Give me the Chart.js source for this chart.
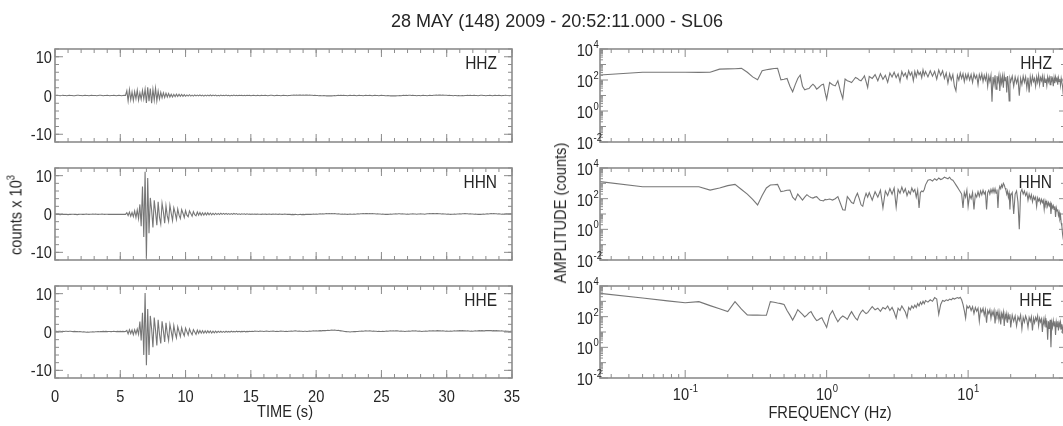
<!DOCTYPE html>
<html><head><meta charset="utf-8">
<script src="https://cdn.jsdelivr.net/npm/chart.js@4.4.1/dist/chart.umd.min.js"></script>
<style>
html,body{margin:0;padding:0;background:#fff;}
#wrap{position:relative;width:1063px;height:426px;overflow:hidden;background:#fff;}
#wrap canvas{position:absolute;left:0;top:0;}
.t{position:absolute;white-space:nowrap;color:#262626;font-family:"Liberation Sans Narrow","Liberation Sans",Arial,sans-serif;font-size:17px;line-height:20px;}
.t sup{font-size:11px;vertical-align:0;position:relative;top:-7px;}
#title{left:557px;top:10px;transform:translateX(-50%);font-family:"Liberation Sans",Arial,sans-serif;font-size:18px;line-height:22px;}
.rot{transform:translate(-50%,-50%) rotate(-90deg) scaleX(0.86);}
.cx{transform:translateX(-50%) scaleX(0.86);}
</style>
</head><body>
<div id="wrap">
  <canvas id="t0" width="1070" height="426"></canvas>
  <canvas id="t1" width="1070" height="426"></canvas>
  <canvas id="t2" width="1070" height="426"></canvas>
  <canvas id="f0" width="1070" height="426"></canvas>
  <canvas id="f1" width="1070" height="426"></canvas>
  <canvas id="f2" width="1070" height="426"></canvas>
  <div class="t" id="title">28 MAY (148) 2009 - 20:52:11.000 - SL06</div>
  <div class="t rot" style="left:17px;top:215px;">counts x 10<sup>3</sup></div>
  <div class="t rot" style="left:561px;top:213px;">AMPLITUDE (counts)</div>
  <div class="t cx" style="left:285px;top:402px;">TIME (s)</div>
  <div class="t cx" style="left:830px;top:403px;">FREQUENCY (Hz)</div>
</div>
<script>
// ---------------- data ----------------
const DT = 0.1; // sample interval of the traces (s)
const timeTicks = [0, 5, 10, 15, 20, 25, 30, 35];
const countTicks = [-10, 0, 10];
const freqTickExp = [-1, 0, 1];
const ampTickExp = [-2, 0, 2, 4];
const channels = ['HHZ', 'HHN', 'HHE'];

// traces, counts x 10^3, one value per 0.1 s from 0 to 35 s
const hhzCounts = [
0,0.05,0.05,0,-0.05,0,0.05,0,0,-0.05,
0,0.05,0,0,-0.05,-0.05,0,0.05,0.05,0,
0,-0.05,0,0.05,0,0,-0.05,0,0.05,0,
0,0,-0.05,0,0.05,0.05,0,-0.05,0,0,
0.05,0,-0.05,0,0,0.05,0,-0.05,0,0.05,
0,-0.05,0,0.05,0,1.2,-1.4,1.5,-1.1,0.9,
-1.3,1.0,-0.8,1.4,-1.2,0.7,-1.0,1.3,-0.9,1.6,
-1.9,2.1,-1.5,1.8,-2.0,1.6,-1.2,1.9,-1.4,1.1,
-0.9,0.8,-0.6,0.7,-0.5,0.6,-0.4,0.5,-0.4,0.3,
-0.4,0.3,-0.3,0.35,-0.25,0.3,-0.2,0.25,-0.2,0.2,
-0.2,0.15,-0.15,0.2,-0.15,0.1,-0.15,0.15,-0.1,0.1,
-0.1,0.15,-0.1,0.1,-0.15,0.1,-0.1,0.1,-0.1,0.15,
-0.1,0.1,-0.05,0.1,-0.1,0.05,-0.1,0.1,-0.05,0.05,
-0.05,0.1,-0.05,0.05,-0.1,0.05,-0.05,0.1,-0.05,0.05,
-0.05,0.05,0,0.05,-0.05,0.05,-0.05,0.05,0,0.05,
-0.05,0,0.05,0,-0.05,0.05,0,-0.05,0.05,0,
0,0.05,0,-0.05,0,0.05,0.05,0,-0.05,0,
0.05,0,0,-0.05,0,0.05,0,0,-0.05,0,
0,0.05,0.05,0.1,0.05,0.1,0.05,0.1,0.1,0.05,
0.1,0.05,0.1,0.1,0.05,0.1,0.05,0.05,0,0.05,
0,0,-0.05,0,-0.05,-0.05,0,-0.05,-0.1,-0.05,
-0.1,-0.05,-0.1,-0.05,0,-0.05,0,0.05,0,0.05,
0,0.05,0,0,-0.05,0,0.05,0,0,0.05,
0,-0.05,0,0.05,0,0,-0.05,0,0.05,0,
0,0.05,0,-0.05,0,0.05,0,0,-0.05,0,
0.05,0,0,-0.05,-0.05,0,-0.05,-0.1,-0.05,-0.1,
-0.05,-0.1,-0.05,-0.05,0,-0.05,0,0.05,0,0.05,
0,0.05,0.05,0,0.05,0,0,-0.05,0,0,
-0.05,0,0.05,0,0,-0.05,0,0.05,0,0,
0.05,0.05,0.1,0.05,0.1,0.1,0.05,0.1,0.05,0.05,
0.05,0,0.05,0,0,-0.05,0,0,-0.05,0,
-0.05,-0.05,0,-0.05,0,0,0.05,0,0.05,0,
0,0.05,0,0,-0.05,0,0.05,0.05,0,0,
-0.05,0,0,0.05,0,-0.05,0,0.05,0,0,
0.05,0,-0.05,0,0,0.05,0,0,-0.05,0,
0];
const hhnCounts = [
-0.1,-0.1,-0.05,-0.1,-0.15,-0.1,-0.1,-0.05,-0.1,-0.1,
-0.15,-0.1,-0.1,-0.05,-0.05,-0.1,-0.1,-0.15,-0.1,-0.05,
-0.05,-0.1,-0.1,-0.05,0,-0.05,-0.1,-0.05,-0.05,0,
-0.05,0,-0.05,-0.1,-0.05,-0.05,0,-0.05,-0.1,-0.05,
-0.05,-0.1,-0.05,-0.1,-0.1,-0.05,-0.1,-0.05,-0.1,-0.05,
-0.1,-0.05,-0.1,-0.05,-0.1,0.3,-0.4,0.5,-0.6,0.4,
-0.7,0.8,-0.9,1.0,-1.2,2.5,-3.2,7.2,-6.0,11.0,
-11.5,9.4,-5.0,4.2,1.0,-3.5,3.6,0.5,-2.9,3.2,
-0.8,-2.6,2.8,0.6,-2.4,2.1,-0.5,-1.9,2.3,0.2,
-1.7,1.6,0.3,-1.4,1.3,-0.3,-1.2,1.1,0.2,-0.9,
0.9,-0.3,-0.7,0.8,0.1,-0.6,0.6,-0.2,-0.5,0.5,
-0.3,0.4,-0.35,0.3,-0.3,0.3,-0.25,0.3,-0.2,0.25,
-0.2,0.2,-0.2,0.2,-0.15,0.15,-0.15,0.2,-0.1,0.15,
-0.1,0.15,-0.1,0.1,-0.1,0.1,-0.1,0.15,-0.05,0.1,
-0.1,0.05,-0.1,0.05,-0.05,0.05,-0.1,0.05,-0.05,0,
-0.1,0,-0.05,0,-0.1,0,-0.05,-0.05,-0.1,0,
-0.05,0,-0.1,-0.05,0,-0.05,-0.1,0,-0.05,0,
-0.05,-0.1,0,-0.05,-0.1,-0.05,0,-0.05,-0.1,-0.05,
-0.1,-0.15,-0.1,-0.15,-0.1,-0.15,-0.2,-0.15,-0.1,-0.15,
-0.1,-0.15,-0.1,-0.05,-0.1,-0.05,-0.1,-0.05,0,-0.05,
0,-0.05,0,0.05,0,0.05,0,0.05,0.1,0.05,
0.1,0.05,0.1,0.05,0.1,0.05,0,0.05,0,-0.05,
0,-0.05,0,-0.05,-0.1,-0.05,0,-0.05,-0.05,0,
-0.05,0,0.05,0,0.05,0.05,0.1,0.05,0.1,0.1,
0.05,0.1,0.05,0.1,0.05,0.05,0,0.05,0,0,
-0.05,0,-0.05,-0.1,-0.05,-0.1,-0.05,0,-0.05,0,
0,0.05,0,0.05,0.05,0,0.05,0,0,-0.05,
0,-0.05,0,0,0.05,0,0,-0.05,0,0,
0.05,0,0,-0.05,0,0.05,0.05,0.1,0.05,0.1,
0.1,0.05,0.1,0.1,0.05,0.05,0,0.05,0,0,
-0.05,0,-0.05,-0.1,-0.05,-0.05,0,-0.05,0,0,
0.05,0,0.05,0.05,0.1,0.05,0.05,0,0.05,0,
0,-0.05,0,-0.05,-0.1,-0.05,-0.1,-0.05,0,-0.05,
0,0.05,0,0.05,0.1,0.05,0.1,0.05,0.05,0,
0.05,0,-0.05,0,-0.05,0,0.05,0,0,0.05,
0];
const hheCounts = [
0.15,0.2,0.15,0.2,0.2,0.15,0.2,0.15,0.2,0.2,
0.15,0.2,0.2,0.15,0.1,0.15,0.1,0.1,0.05,0.1,
0.05,0,0.05,0,-0.05,0,-0.05,0,0,0.05,
0,0.05,0.05,0.1,0.05,0.1,0.1,0.15,0.1,0.15,
0.1,0.15,0.15,0.1,0.15,0.2,0.15,0.1,0.15,0.1,
0.15,0.1,0.15,0.1,0.15,0.4,-0.5,0.6,-0.4,0.5,
-0.7,0.6,-0.5,0.8,-0.6,2.7,-2.2,5.0,-6.0,10.2,
-8.7,6.0,-6.0,4.2,0.8,-4.0,3.8,0.5,-3.5,3.2,
-0.6,-3.0,2.8,0.3,-2.6,2.4,-0.4,-2.2,2.0,0.2,
-1.8,1.7,-0.2,-1.5,1.4,0.1,-1.2,1.1,-0.2,-1.0,
1.0,0.1,-0.8,0.8,-0.1,-0.7,0.6,0.0,-0.6,0.5,
-0.35,0.4,-0.3,0.35,-0.3,0.3,-0.25,0.3,-0.2,0.25,
-0.25,0.2,-0.2,0.25,-0.15,0.2,-0.1,0.2,-0.1,0.15,
-0.1,0.2,-0.05,0.15,-0.05,0.2,0,0.15,0,0.2,
0.05,0.2,0.05,0.15,0.1,0.2,0.05,0.15,0.1,0.2,
0.15,0.2,0.15,0.25,0.2,0.2,0.15,0.25,0.2,0.2,
0.15,0.2,0.25,0.2,0.15,0.2,0.2,0.25,0.2,0.15,
0.2,0.15,0.2,0.25,0.2,0.2,0.15,0.2,0.15,0.2,
0.2,0.25,0.2,0.25,0.3,0.25,0.2,0.25,0.2,0.2,
0.15,0.2,0.2,0.15,0.2,0.25,0.2,0.25,0.3,0.25,
0.3,0.25,0.3,0.35,0.3,0.35,0.4,0.35,0.4,0.45,
0.4,0.45,0.5,0.45,0.5,0.45,0.4,0.45,0.35,0.3,
0.25,0.2,0.15,0.1,0.05,0.05,0,0.05,0.05,0.1,
0.1,0.15,0.15,0.2,0.2,0.25,0.2,0.25,0.3,0.25,
0.25,0.3,0.25,0.2,0.25,0.2,0.2,0.15,0.2,0.15,
0.15,0.2,0.15,0.2,0.25,0.2,0.25,0.3,0.25,0.3,
0.25,0.3,0.3,0.25,0.2,0.25,0.2,0.2,0.15,0.2,
0.2,0.25,0.2,0.25,0.3,0.25,0.3,0.25,0.2,0.25,
0.2,0.15,0.2,0.2,0.25,0.2,0.25,0.3,0.25,0.3,
0.3,0.25,0.3,0.35,0.3,0.3,0.25,0.3,0.25,0.2,
0.25,0.2,0.2,0.25,0.2,0.25,0.3,0.25,0.3,0.3,
0.35,0.3,0.35,0.3,0.3,0.25,0.3,0.25,0.2,0.25,
0.2,0.25,0.3,0.25,0.3,0.35,0.3,0.35,0.3,0.3,
0.35,0.4,0.35,0.4,0.35,0.3,0.35,0.3,0.35,0.3,
0.3,0.25,0.3,0.25,0.2,0.25,0.2,0.2,0.15,0.2,
0.2];

// spectrum frequencies (Hz)
const freqHz = [
0.025,0.05,0.075,0.1,0.125,0.15,0.175,0.2,0.225,0.25,
0.275,0.3,0.325,0.35,0.375,0.4,0.425,0.45,0.475,0.5,
0.525,0.55,0.575,0.6,0.625,0.65,0.675,0.7,0.725,0.75,
0.775,0.8,0.825,0.85,0.875,0.9,0.925,0.95,0.975,1.0,
1.05,1.1,1.15,1.2,1.25,1.3,1.35,1.4,1.45,1.5,
1.55,1.6,1.65,1.7,1.75,1.8,1.85,1.9,1.95,2.0,
2.1,2.2,2.3,2.4,2.5,2.6,2.7,2.8,2.9,3.0,
3.1,3.2,3.3,3.4,3.5,3.6,3.7,3.8,3.9,4.0,
4.1,4.2,4.3,4.4,4.5,4.6,4.7,4.8,4.9,5.0,
5.2,5.4,5.6,5.8,6.0,6.2,6.4,6.6,6.8,7.0,
7.2,7.4,7.6,7.8,8.0,8.2,8.4,8.6,8.8,9.0,
9.2,9.4,9.6,9.8,10.0,
10.25,10.5,10.75,11,11.25,11.5,11.75,12,12.25,12.5,
12.75,13,13.25,13.5,13.75,14,14.25,14.5,14.75,15,
15.25,15.5,15.75,16,16.25,16.5,16.75,17,17.25,17.5,
17.75,18,18.25,18.5,18.75,19,19.25,19.5,19.75,20,
20.5,21,21.5,22,22.5,23,23.5,24,24.5,25,
25.5,26,26.5,27,27.5,28,28.5,29,29.5,30,
30.5,31,31.5,32,32.5,33,33.5,34,34.5,35,
35.5,36,36.5,37,37.5,38,38.5,39,39.5,40,
40.5,41,41.5,42,42.5,43,43.5,44,44.5,45,
45.5,46,46.5,47,47.5,48,48.5,49,49.5,50];

// spectral amplitude, read as log10(counts)
const hhzLogAmp = [
2.32,2.50,2.50,2.50,2.49,2.50,2.70,2.72,2.73,2.75,
2.50,2.20,2.01,2.60,2.66,2.70,2.74,2.75,2.01,2.05,
2.10,1.60,1.24,1.70,2.10,2.32,1.60,1.37,1.42,1.45,
1.60,1.73,1.60,1.41,1.50,1.60,1.70,1.73,1.20,0.76,
1.84,1.70,1.62,1.95,1.30,0.80,2.06,1.95,1.90,1.84,
2.00,2.16,2.10,2.00,1.95,2.10,2.27,1.90,1.52,2.23,
2.10,2.35,1.95,2.40,2.05,2.30,1.85,2.45,2.20,2.50,
2.15,2.40,1.90,2.55,2.25,2.45,2.10,2.60,2.30,2.50,
1.95,2.55,2.20,2.60,2.35,2.50,2.15,2.65,2.30,2.55,
2.20,2.60,2.25,2.55,2.05,2.65,2.30,2.60,2.10,2.45,
1.80,2.40,2.00,2.35,1.60,1.30,2.30,2.00,2.45,2.10,
2.40,1.90,2.35,2.05,2.40,
2.00,2.35,1.85,2.40,2.10,2.30,1.70,2.35,2.05,2.40,
1.90,2.30,2.00,2.35,1.60,2.25,1.90,2.30,0.60,2.20,
1.70,2.30,1.40,2.25,1.90,2.30,1.30,2.20,1.80,2.25,
1.50,2.30,1.95,2.20,1.20,2.25,1.70,0.65,2.10,1.90,
2.25,1.60,2.20,1.80,2.15,0.98,2.10,1.70,2.25,1.85,
2.20,1.50,2.15,1.20,2.20,1.75,2.25,1.90,2.10,1.60,
2.20,1.85,2.30,1.70,2.15,1.95,2.25,1.55,2.20,1.85,
2.10,1.65,2.20,1.90,2.15,1.70,2.25,1.95,2.10,1.60,
2.15,1.80,2.20,1.95,2.10,1.70,2.15,1.90,2.05,1.65,
2.10,1.85,1.60,1.10,1.50,1.20,1.40,1.00,1.30,1.10];
const hhnLogAmp = [
3.11,2.78,2.78,2.78,2.78,2.56,2.70,2.85,2.93,2.60,
2.30,1.95,1.59,2.20,2.70,2.89,2.91,2.93,2.46,2.50,
2.55,2.56,2.10,1.91,2.30,2.10,1.91,2.10,2.26,2.15,
2.08,2.04,2.10,2.13,2.00,1.90,1.88,1.85,1.95,1.93,
1.98,1.91,2.00,2.13,1.70,1.28,1.26,2.13,1.95,1.75,
1.69,2.10,2.35,2.00,1.60,1.50,2.00,2.35,2.10,2.40,
1.90,2.45,2.10,2.55,1.40,2.50,2.20,2.65,2.30,2.70,
1.45,2.60,2.35,2.75,2.40,2.65,2.20,2.50,2.30,2.70,
2.45,2.60,2.10,2.55,1.40,2.40,2.50,2.45,2.60,2.90,
3.20,3.25,3.15,3.30,3.20,3.35,3.25,3.30,3.40,3.35,
3.30,3.40,3.25,3.20,3.05,2.90,2.75,2.60,2.45,2.30,
1.40,2.40,2.10,2.55,1.50,
2.25,2.00,2.40,1.30,2.30,2.10,2.45,2.15,2.50,2.25,
2.55,2.30,2.45,1.30,2.40,2.55,2.30,2.60,2.40,2.65,
2.40,2.65,2.35,2.60,1.40,2.55,2.80,2.65,2.90,2.75,
3.00,2.90,2.70,2.55,2.30,2.50,2.10,2.35,1.30,2.20,
2.40,1.00,2.30,2.50,1.80,0.00,2.40,2.60,2.30,2.50,
2.20,2.40,1.90,2.30,2.00,2.25,1.80,2.15,1.95,2.10,
1.50,2.05,1.85,2.00,1.70,1.95,1.75,1.90,1.30,1.85,
1.60,1.80,1.50,1.75,1.55,1.70,1.00,1.60,1.40,1.55,
1.30,1.50,0.80,1.40,1.20,1.30,0.90,1.10,0.70,0.90,
0.40,0.20,-0.30,-0.60,-0.80,-1.00,-1.20,-1.40,-1.60,-1.80];
const hheLogAmp = [
3.52,3.22,3.03,2.91,2.98,2.72,2.51,2.33,2.98,2.49,
2.11,2.10,2.10,2.09,2.09,2.98,2.94,2.89,2.85,2.80,
2.40,2.10,1.78,2.10,2.46,2.30,2.15,1.98,2.10,2.25,
2.33,2.10,1.90,1.74,1.80,1.88,1.93,1.70,1.50,1.30,
2.10,2.39,2.00,1.67,1.90,2.04,1.95,1.82,2.10,2.33,
2.10,1.90,1.78,2.10,2.30,2.43,2.30,2.20,2.26,2.40,
2.65,2.45,2.55,2.35,2.60,2.50,2.70,2.40,2.60,2.30,
1.90,2.55,2.40,2.70,2.50,2.30,1.95,2.60,2.45,2.70,
2.55,2.75,2.60,2.85,2.70,2.95,2.80,3.00,2.85,3.05,
2.95,3.10,3.00,3.24,3.15,2.15,2.80,3.05,3.00,3.10,
3.05,3.15,3.10,3.20,3.15,3.20,3.25,3.20,3.26,3.10,
2.80,2.40,1.90,2.70,2.55,
2.70,2.40,2.65,2.20,2.60,2.35,2.55,1.70,2.50,2.30,
2.55,2.10,2.45,1.60,2.40,2.20,2.45,1.90,2.35,2.10,
2.40,1.55,2.30,2.05,2.35,1.80,2.25,1.50,2.20,1.95,
2.30,1.40,2.15,1.90,2.20,1.60,2.10,1.85,2.15,1.30,
2.10,1.70,2.05,1.40,2.00,1.75,2.10,1.20,1.95,1.65,
2.05,1.80,1.30,1.95,1.70,2.00,1.10,1.90,1.60,1.95,
1.75,2.05,1.40,1.90,1.65,1.85,1.00,1.80,1.50,1.90,
1.30,1.75,0.50,1.70,1.20,1.80,0.00,1.60,1.30,1.75,
1.40,1.70,0.80,1.65,1.35,1.70,1.10,1.60,1.40,1.65,
1.20,1.50,0.90,1.30,1.00,1.20,0.90,1.10,0.80,1.00];

// ---------------- drawing ----------------
const NARROW = '"Liberation Sans Narrow","Liberation Sans",Arial,sans-serif';
const SX = 0.86; // horizontal condensing of the axis lettering
const TXT = '#262626';
const FRAME = '#8c8c8c';
const LINE = 'rgba(60,60,60,0.7)';
const CW = 1070, CH = 426;
const COL_T = {l: 55, r: 512};
const COL_F = {l: 600, r: 1067};
const ROWS = [[49, 142], [168, 260], [286, 378]];

function traceData(arr) { return arr.map((v, i) => ({x: Math.round(i * DT * 10) / 10, y: v})); }
function specData(arr) { return freqHz.map((f, i) => ({x: f, y: Math.pow(10, arr[i])})); }

function textW(ctx, s, font) { ctx.font = font; return ctx.measureText(s).width * SX; }
function drawText(ctx, s, x, y, align, font) {
  const w = textW(ctx, s, font);
  const x0 = align === 'right' ? x - w : align === 'center' ? x - w / 2 : x;
  ctx.save();
  ctx.font = font; ctx.textAlign = 'left'; ctx.textBaseline = 'alphabetic';
  ctx.translate(x0, y); ctx.scale(SX, 1);
  ctx.fillText(s, 0, 0);
  ctx.restore();
}

function drawTicks(ctx, chart, axis, values, len) {
  const ca = chart.chartArea, s = chart.scales[axis];
  ctx.beginPath();
  values.forEach(v => {
    const p = s.getPixelForValue(v);
    if (axis === 'x') {
      if (p < ca.left - 0.5 || p > ca.right + 0.5) return;
      ctx.moveTo(p, ca.bottom); ctx.lineTo(p, ca.bottom - len);
      ctx.moveTo(p, ca.top); ctx.lineTo(p, ca.top + len);
    } else {
      if (p < ca.top - 0.5 || p > ca.bottom + 0.5) return;
      ctx.moveTo(ca.left, p); ctx.lineTo(ca.left + len, p);
      ctx.moveTo(ca.right, p); ctx.lineTo(ca.right - len, p);
    }
  });
  ctx.stroke();
}

function logMinors(lo, hi) {
  const out = [];
  for (let e = -3; e <= 4; e++) for (let k = 2; k <= 9; k++) {
    const v = k * Math.pow(10, e);
    if (v >= lo && v <= hi) out.push(v);
  }
  return out;
}

function panelPlugin(kind, row, label) {
  return {
    id: 'panel' + kind + row,
    afterDraw(chart) {
      const ctx = chart.ctx, ca = chart.chartArea;
      ctx.save();
      ctx.strokeStyle = FRAME;
      ctx.lineWidth = 1;
      if (kind === 'time') {
        const minorX = []; for (let t = 0; t <= 35; t++) minorX.push(t);
        const minorY = []; for (let c = -12; c <= 12; c += 2) minorY.push(c);
        drawTicks(ctx, chart, 'x', minorX, 4);
        drawTicks(ctx, chart, 'x', timeTicks, 8);
        drawTicks(ctx, chart, 'y', minorY, 4);
        drawTicks(ctx, chart, 'y', countTicks, 8);
      } else {
        drawTicks(ctx, chart, 'x', logMinors(0.025, 50), 4);
        drawTicks(ctx, chart, 'x', freqTickExp.map(e => Math.pow(10, e)), 8);
        drawTicks(ctx, chart, 'y', logMinors(0.01, 10000), 3);
        drawTicks(ctx, chart, 'y', [0.1, 10, 1000], 6);
        drawTicks(ctx, chart, 'y', ampTickExp.map(e => Math.pow(10, e)), 8);
      }
      ctx.lineWidth = 1.6;
      ctx.strokeRect(ca.left, ca.top, ca.right - ca.left, ca.bottom - ca.top);

      ctx.fillStyle = TXT;
      const big = '17px ' + NARROW, small = '11px ' + NARROW;
      if (kind === 'time') {
        countTicks.forEach(v => {
          const y = chart.scales.y.getPixelForValue(v);
          drawText(ctx, String(v), ca.left - 3, y + 6, 'right', big);
        });
        if (row === 2) {
          timeTicks.forEach(v => {
            const x = chart.scales.x.getPixelForValue(v);
            drawText(ctx, String(v), x, ca.bottom + 24, 'center', big);
          });
        }
      } else {
        ampTickExp.forEach(e => {
          const y = chart.scales.y.getPixelForValue(Math.pow(10, e));
          drawText(ctx, '10', ca.left - 7, y + 7, 'right', big);
          drawText(ctx, String(e), ca.left - 6.5, y - 1, 'left', small);
        });
        if (row === 2) {
          freqTickExp.forEach(e => {
            const x = chart.scales.x.getPixelForValue(Math.pow(10, e));
            const w1 = textW(ctx, '10', big), w2 = textW(ctx, String(e), small);
            const x0 = x - (w1 + w2) / 2;
            drawText(ctx, '10', x0, ca.bottom + 22, 'left', big);
            drawText(ctx, String(e), x0 + w1 + 0.5, ca.bottom + 14, 'left', small);
          });
        }
      }
      drawText(ctx, label, ca.right - 15, ca.top + 20, 'right', '18px ' + NARROW);
      ctx.restore();
    }
  };
}

function makePanel(id, kind, row, values) {
  const col = kind === 'time' ? COL_T : COL_F;
  const [top, bottom] = ROWS[row];
  const data = kind === 'time' ? traceData(values) : specData(values);
  const scales = kind === 'time'
    ? { x: {type: 'linear', min: 0, max: 35, display: false},
        y: {type: 'linear', min: -12, max: 12, display: false} }
    : { x: {type: 'logarithmic', min: 0.025, max: 50, display: false},
        y: {type: 'logarithmic', min: 0.01, max: 10000, display: false} };
  new Chart(document.getElementById(id), {
    type: 'line',
    data: { datasets: [{ data: data, borderColor: LINE, borderWidth: 1.1, pointRadius: 0, fill: false, tension: 0 }] },
    options: {
      responsive: false, animation: false, events: [], normalized: true,
      layout: { padding: { left: col.l, right: CW - col.r, top: top, bottom: CH - bottom } },
      scales: scales,
      plugins: { legend: {display: false}, tooltip: {enabled: false}, title: {display: false} }
    },
    plugins: [panelPlugin(kind, row, channels[row])]
  });
}

makePanel('t0', 'time', 0, hhzCounts);
makePanel('t1', 'time', 1, hhnCounts);
makePanel('t2', 'time', 2, hheCounts);
makePanel('f0', 'freq', 0, hhzLogAmp);
makePanel('f1', 'freq', 1, hhnLogAmp);
makePanel('f2', 'freq', 2, hheLogAmp);
</script>
</body></html>
